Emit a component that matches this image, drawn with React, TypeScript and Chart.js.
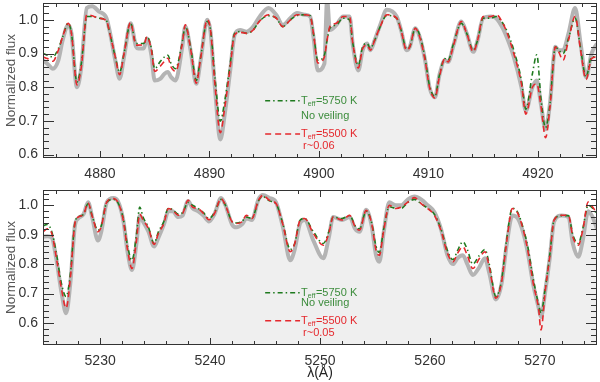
import React, { useEffect, useRef } from 'react';
import { Chart, registerables } from 'chart.js';
Chart.register(...registerables);

// ---------- top panel data (Å, normalized flux) ----------
const topWave = [4874.8, 4875.2, 4875.7, 4876.2, 4876.6, 4877.1, 4877.4, 4877.9, 4878.3, 4878.8, 4879.3, 4879.9, 4880.6, 4880.9, 4881.4, 4881.8, 4882.2, 4882.8, 4883.3, 4883.5, 4884.0, 4884.3, 4884.7, 4885.0, 4885.5, 4885.9, 4886.2, 4886.5, 4886.9, 4887.5, 4887.8, 4888.3, 4888.8, 4889.2, 4889.8, 4890.1, 4890.5, 4891.0, 4891.4, 4891.9, 4892.3, 4892.8, 4893.4, 4894.0, 4894.6, 4895.4, 4896.1, 4896.7, 4897.4, 4898.0, 4898.7, 4899.2, 4899.5, 4899.9, 4900.5, 4900.75, 4901.0, 4901.6, 4902.2, 4902.8, 4903.1, 4903.6, 4904.0, 4904.4, 4904.7, 4905.1, 4905.6, 4906.2, 4907.1, 4907.5, 4908.0, 4908.3, 4908.8, 4909.2, 4909.7, 4910.1, 4910.6, 4911.0, 4911.5, 4911.8, 4912.3, 4913.0, 4913.5, 4914.1, 4914.5, 4915.0, 4915.7, 4916.2, 4916.8, 4917.2, 4917.8, 4918.5, 4918.9, 4919.5, 4919.9, 4920.3, 4920.7, 4921.1, 4921.6, 4921.9, 4922.3, 4922.8, 4923.4, 4923.9, 4924.4, 4924.9, 4925.4];
const topObserved = [0.88, 0.87, 0.855, 0.88, 0.94, 0.985, 0.96, 0.80, 0.86, 1.035, 1.04, 1.025, 1.005, 0.965, 0.88, 0.825, 0.89, 0.99, 0.92, 0.915, 0.915, 0.945, 0.895, 0.82, 0.825, 0.84, 0.845, 0.83, 0.82, 0.915, 0.98, 0.905, 0.81, 0.88, 1.0, 0.965, 0.80, 0.645, 0.72, 0.85, 0.955, 0.97, 0.965, 0.98, 1.01, 1.035, 1.015, 0.985, 1.005, 1.02, 1.015, 1.01, 0.95, 0.85, 0.87, 1.06, 0.97, 0.985, 1.01, 1.01, 0.925, 0.85, 0.91, 0.93, 0.91, 0.94, 0.985, 1.03, 1.01, 0.97, 0.91, 0.92, 0.975, 0.95, 0.88, 0.80, 0.77, 0.835, 0.88, 0.875, 0.925, 0.995, 0.96, 0.905, 0.94, 1.005, 1.01, 1.005, 0.975, 0.945, 0.89, 0.80, 0.73, 0.80, 0.82, 0.745, 0.675, 0.75, 0.92, 0.91, 0.91, 0.96, 1.035, 0.93, 0.83, 0.90, 0.93];
const topNoVeiling = [0.90, 0.895, 0.89, 0.915, 0.95, 0.99, 0.96, 0.815, 0.87, 1.01, 1.01, 1.005, 0.997, 0.96, 0.89, 0.845, 0.90, 0.99, 0.93, 0.93, 0.93, 0.95, 0.915, 0.855, 0.876, 0.89, 0.895, 0.87, 0.855, 0.93, 0.98, 0.915, 0.82, 0.89, 0.995, 0.97, 0.83, 0.699, 0.76, 0.87, 0.96, 0.965, 0.96, 0.97, 0.997, 1.012, 1.005, 0.98, 1.0, 1.013, 1.015, 1.012, 0.96, 0.88, 0.895, 0.94, 0.975, 0.985, 1.005, 1.0, 0.93, 0.865, 0.92, 0.93, 0.915, 0.94, 0.98, 1.013, 1.005, 0.97, 0.915, 0.92, 0.975, 0.955, 0.885, 0.805, 0.772, 0.835, 0.885, 0.88, 0.93, 0.99, 0.96, 0.91, 0.94, 1.005, 1.005, 1.01, 0.99, 0.965, 0.91, 0.82, 0.735, 0.84, 0.896, 0.76, 0.68, 0.75, 0.92, 0.91, 0.90, 0.945, 1.005, 0.915, 0.83, 0.89, 0.89];
const topVeiled = [0.89, 0.885, 0.877, 0.91, 0.95, 0.99, 0.96, 0.807, 0.86, 1.015, 1.012, 1.005, 0.997, 0.96, 0.89, 0.837, 0.90, 0.992, 0.925, 0.925, 0.926, 0.95, 0.91, 0.847, 0.862, 0.877, 0.886, 0.86, 0.847, 0.925, 0.985, 0.91, 0.812, 0.886, 1.0, 0.97, 0.81, 0.665, 0.74, 0.86, 0.956, 0.963, 0.96, 0.97, 0.997, 1.015, 1.005, 0.98, 1.0, 1.015, 1.015, 1.012, 0.96, 0.872, 0.89, 0.94, 0.98, 0.99, 1.01, 1.01, 0.93, 0.857, 0.915, 0.925, 0.91, 0.94, 0.98, 1.015, 1.005, 0.97, 0.91, 0.92, 0.975, 0.95, 0.88, 0.80, 0.768, 0.83, 0.885, 0.875, 0.925, 0.995, 0.96, 0.905, 0.94, 1.01, 1.01, 1.015, 0.99, 0.96, 0.90, 0.81, 0.72, 0.80, 0.81, 0.74, 0.65, 0.74, 0.92, 0.905, 0.88, 0.94, 1.01, 0.91, 0.823, 0.885, 0.89];

// ---------- bottom panel data ----------
const bottomWave = [5224.8, 5225.2, 5225.6, 5226.0, 5226.5, 5226.9, 5227.3, 5227.7, 5228.0, 5228.5, 5228.9, 5229.3, 5229.8, 5230.1, 5230.6, 5231.2, 5231.6, 5232.1, 5232.5, 5232.9, 5233.3, 5233.6, 5233.9, 5234.4, 5234.9, 5235.3, 5235.8, 5236.2, 5236.6, 5237.1, 5237.5, 5238.0, 5238.4, 5238.9, 5239.4, 5239.9, 5240.4, 5241.0, 5241.4, 5242.0, 5242.4, 5242.9, 5243.3, 5243.8, 5244.4, 5244.8, 5245.4, 5246.0, 5246.6, 5247.3, 5247.7, 5248.2, 5248.6, 5249.4, 5250.3, 5250.8, 5251.2, 5252.0, 5252.7, 5253.2, 5253.6, 5254.2, 5254.7, 5255.1, 5255.4, 5255.8, 5256.3, 5256.9, 5257.4, 5258.0, 5258.6, 5259.2, 5259.8, 5260.4, 5261.0, 5261.6, 5262.1, 5262.5, 5263.0, 5263.4, 5263.9, 5264.5, 5265.0, 5265.4, 5266.0, 5266.5, 5267.0, 5267.5, 5268.0, 5268.5, 5268.9, 5269.4, 5269.9, 5270.1, 5270.5, 5270.9, 5271.3, 5272.0, 5272.6, 5273.0, 5273.5, 5273.9, 5274.4, 5274.8, 5275.2];
const bottomObserved = [0.893, 0.895, 0.89, 0.82, 0.70, 0.633, 0.74, 0.93, 0.955, 0.97, 1.01, 0.955, 0.88, 0.91, 1.01, 1.025, 1.015, 0.95, 0.84, 0.78, 0.87, 0.965, 0.945, 0.91, 0.86, 0.89, 0.935, 0.98, 0.98, 0.96, 0.965, 1.015, 0.99, 0.98, 0.965, 0.945, 0.97, 1.025, 1.0, 0.935, 0.925, 0.935, 0.955, 0.95, 1.02, 1.035, 1.025, 1.01, 0.93, 0.813, 0.85, 0.94, 0.95, 0.88, 0.82, 0.89, 0.96, 0.95, 0.96, 0.92, 0.91, 0.985, 0.93, 0.83, 0.808, 0.91, 1.01, 1.0, 1.0, 1.02, 1.03, 1.02, 1.0, 0.977, 0.92, 0.83, 0.80, 0.82, 0.83, 0.80, 0.763, 0.79, 0.82, 0.77, 0.68, 0.73, 0.87, 0.965, 0.955, 0.905, 0.84, 0.73, 0.65, 0.62, 0.71, 0.82, 0.945, 0.965, 0.96, 0.87, 0.825, 0.88, 0.98, 0.96, 0.92];
const bottomNoVeiling = [0.93, 0.935, 0.91, 0.84, 0.73, 0.69, 0.77, 0.94, 0.96, 0.97, 1.005, 0.96, 0.915, 0.93, 1.01, 1.02, 1.01, 0.955, 0.86, 0.813, 0.90, 0.994, 0.96, 0.925, 0.87, 0.91, 0.945, 0.99, 0.985, 0.97, 0.975, 1.01, 1.0, 0.99, 0.975, 0.955, 0.975, 1.02, 1.0, 0.945, 0.94, 0.945, 0.96, 0.955, 1.015, 1.03, 1.015, 1.005, 0.94, 0.85, 0.87, 0.95, 0.955, 0.91, 0.87, 0.91, 0.96, 0.955, 0.965, 0.93, 0.92, 0.98, 0.94, 0.86, 0.84, 0.92, 0.995, 0.99, 0.99, 1.01, 1.02, 1.005, 0.99, 0.97, 0.92, 0.845, 0.815, 0.845, 0.876, 0.85, 0.80, 0.83, 0.85, 0.80, 0.69, 0.74, 0.89, 0.99, 0.975, 0.92, 0.86, 0.75, 0.66, 0.633, 0.72, 0.83, 0.95, 0.965, 0.965, 0.90, 0.87, 0.92, 1.0, 0.99, 0.97];
const bottomVeiled = [0.91, 0.92, 0.904, 0.825, 0.712, 0.65, 0.757, 0.938, 0.96, 0.97, 1.008, 0.96, 0.91, 0.927, 1.011, 1.023, 1.011, 0.95, 0.847, 0.785, 0.88, 0.97, 0.95, 0.92, 0.867, 0.904, 0.938, 0.989, 0.983, 0.966, 0.972, 1.017, 0.994, 0.989, 0.972, 0.951, 0.972, 1.023, 1.0, 0.944, 0.938, 0.944, 0.966, 0.955, 1.017, 1.034, 1.017, 1.006, 0.938, 0.842, 0.87, 0.95, 0.955, 0.904, 0.864, 0.904, 0.96, 0.95, 0.966, 0.927, 0.915, 0.983, 0.938, 0.847, 0.83, 0.915, 1.0, 0.989, 0.994, 1.011, 1.026, 1.006, 0.989, 0.966, 0.915, 0.836, 0.808, 0.836, 0.859, 0.83, 0.785, 0.819, 0.842, 0.79, 0.684, 0.735, 0.88, 0.989, 0.972, 0.915, 0.847, 0.735, 0.644, 0.576, 0.712, 0.825, 0.95, 0.966, 0.966, 0.893, 0.864, 0.915, 1.011, 0.994, 0.972];

// ---------- axes ----------
const topRange = [4874.8, 4925.4];
const bottomRange = [5224.8, 5275.2];
const topFluxRange = [0.59, 1.05];
const bottomFluxRange = [0.525, 1.052];
const topXTicks = [4880, 4890, 4900, 4910, 4920];
const bottomXTicks = [5230, 5240, 5250, 5260, 5270];
const fluxTicks = [0.6, 0.7, 0.8, 0.9, 1.0];
const coolLabel = ['5750 K', 'No veiling'];
const topVeilLabel = ['5500 K', 'r~0.06'];
const bottomVeilLabel = ['5500 K', 'r~0.05'];

const FONT = '"Liberation Sans", Arial, sans-serif';
const GREEN_LINE = '#1f7a1f';
const GREEN_TEXT = '#3c8c3c';
const RED = '#e5282d';
const GREY = '#b4b4b4';
const FILL = '#efefef';
const AXIS = '#333333';

function pts(xs: number[], ys: number[]) {
  return xs.map((x, i) => ({ x, y: ys[i] }));
}

const framePlugin = {
  id: 'frameTicks',
  afterDatasetsDraw(chart: any) {
    const { ctx, chartArea: a, scales } = chart;
    const xs = scales.x, ys = scales.y;
    ctx.save();
    ctx.strokeStyle = AXIS;
    ctx.lineWidth = 1;
    ctx.strokeRect(a.left + 0.5, a.top + 0.5, a.right - a.left - 1, a.bottom - a.top - 1);
    ctx.beginPath();
    for (let i = Math.ceil(xs.min / 2); i * 2 <= xs.max; i++) {
      const v = i * 2;
      const px = Math.round(xs.getPixelForValue(v)) + 0.5;
      const len = v % 10 === 0 ? 7 : 4;
      ctx.moveTo(px, a.bottom); ctx.lineTo(px, a.bottom - len);
      ctx.moveTo(px, a.top); ctx.lineTo(px, a.top + len);
    }
    for (let i = Math.ceil(ys.min * 50 - 1e-6); i / 50 <= ys.max + 1e-9; i++) {
      const py = Math.round(ys.getPixelForValue(i / 50)) + 0.5;
      const len = i % 5 === 0 ? 11 : 6;
      ctx.moveTo(a.left, py); ctx.lineTo(a.left + len, py);
      ctx.moveTo(a.right, py); ctx.lineTo(a.right - len, py);
    }
    ctx.stroke();
    ctx.restore();
  },
};

const legendPlugin = {
  id: 'modelLegend',
  afterDraw(chart: any, _args: any, opts: any) {
    const { ctx, chartArea: a } = chart;
    const w = a.right - a.left, h = a.bottom - a.top;
    const x0 = a.left + w * 0.401, x1 = a.left + w * 0.464;
    const tx = x1 + 1;
    const rows = opts.rows as number[];
    const drawTeff = (y: number, val: string, color: string) => {
      ctx.fillStyle = color;
      ctx.textBaseline = 'middle';
      ctx.textAlign = 'left';
      ctx.font = `11px ${FONT}`;
      ctx.fillText('T', tx, y);
      const tw = ctx.measureText('T').width;
      ctx.font = `7px ${FONT}`;
      ctx.fillText('eff', tx + tw, y + 3);
      const sw = ctx.measureText('eff').width;
      ctx.font = `11px ${FONT}`;
      ctx.fillText('=' + val, tx + tw + sw + 0.5, y);
    };
    ctx.save();
    ctx.lineWidth = 1.5;
    let y = a.top + h * rows[0];
    ctx.strokeStyle = GREEN_LINE;
    ctx.setLineDash([5, 3, 1.5, 3]);
    ctx.beginPath(); ctx.moveTo(x0, y); ctx.lineTo(x1, y); ctx.stroke();
    drawTeff(y, opts.cool[0], GREEN_TEXT);
    ctx.font = `11px ${FONT}`;
    ctx.fillText(opts.cool[1], tx, a.top + h * rows[1]);
    y = a.top + h * rows[2];
    ctx.strokeStyle = RED;
    ctx.setLineDash([6, 4]);
    ctx.beginPath(); ctx.moveTo(x0, y); ctx.lineTo(x1, y); ctx.stroke();
    drawTeff(y, opts.veil[0], RED);
    ctx.font = `11px ${FONT}`;
    ctx.fillText(opts.veil[1], tx + 2, a.top + h * rows[3]);
    ctx.restore();
  },
};

function makeConfig(p: {
  wave: number[]; obs: number[]; cool: number[]; veil: number[];
  range: number[]; flux: number[]; xTicks: number[];
  padTop: number; xHeight: number; showTitle: boolean; rows: number[]; veilLabel: string[];
}): any {
  const zeroPad = (s: any) => { s.paddingTop = 0; s.paddingBottom = 0; s.paddingLeft = 0; s.paddingRight = 0; };
  return {
    type: 'line',
    data: {
      datasets: [
        {
          label: 'Observed',
          data: pts(p.wave, p.obs),
          borderColor: GREY,
          borderWidth: 4,
          backgroundColor: FILL,
          fill: 'start',
          pointRadius: 0,
          cubicInterpolationMode: 'monotone',
          order: 3,
        },
        {
          label: 'Teff=5750 K, no veiling',
          data: pts(p.wave, p.cool),
          borderColor: GREEN_LINE,
          borderWidth: 1.6,
          borderDash: [5, 3, 1.5, 3],
          fill: false,
          pointRadius: 0,
          cubicInterpolationMode: 'monotone',
          order: 2,
        },
        {
          label: 'Teff=5500 K, veiled',
          data: pts(p.wave, p.veil),
          borderColor: RED,
          borderWidth: 1.6,
          borderDash: [6, 4],
          fill: false,
          pointRadius: 0,
          cubicInterpolationMode: 'monotone',
          order: 1,
        },
      ],
    },
    options: {
      animation: false,
      responsive: false,
      layout: { padding: { top: p.padTop, right: 3, left: 0, bottom: 0 } },
      plugins: {
        legend: { display: false },
        tooltip: { enabled: false },
        modelLegend: { rows: p.rows, cool: coolLabel, veil: p.veilLabel },
      },
      scales: {
        x: {
          type: 'linear',
          min: p.range[0],
          max: p.range[1],
          grid: { display: false, drawTicks: false },
          border: { display: false },
          afterBuildTicks: (s: any) => { s.ticks = p.xTicks.map((v) => ({ value: v })); },
          afterFit: (s: any) => { s.height = p.xHeight; zeroPad(s); },
          ticks: {
            padding: 8,
            maxRotation: 0,
            color: AXIS,
            font: { family: FONT, size: 14 },
            callback: (v: any) => String(v),
          },
          title: {
            display: p.showTitle,
            text: 'λ(Å)',
            color: '#222',
            font: { family: FONT, size: 14 },
            padding: { top: 0, bottom: 0 },
          },
        },
        y: {
          min: p.flux[0],
          max: p.flux[1],
          grid: { display: false, drawTicks: false },
          border: { display: false },
          afterBuildTicks: (s: any) => { s.ticks = fluxTicks.map((v) => ({ value: v })); },
          afterFit: (s: any) => { s.width = 43; zeroPad(s); },
          ticks: {
            padding: 5,
            color: AXIS,
            font: { family: FONT, size: 14 },
            callback: (v: any) => Number(v).toFixed(1),
          },
          title: {
            display: true,
            text: 'Normalized flux',
            color: '#555',
            font: { family: FONT, size: 13.5 },
            padding: { top: 3, bottom: 0 },
          },
        },
      },
    },
    plugins: [framePlugin, legendPlugin],
  };
}

function Panel(props: { cfg: any; top: number; height: number }) {
  const ref = useRef<HTMLCanvasElement | null>(null);
  useEffect(() => {
    if (!ref.current) return;
    const chart = new Chart(ref.current, props.cfg);
    return () => chart.destroy();
  }, []);
  return (
    <canvas
      ref={ref}
      width={600}
      height={props.height}
      style={{ position: 'absolute', left: 0, top: props.top, width: 600, height: props.height, display: 'block' }}
    />
  );
}

export default function App() {
  const topCfg = makeConfig({
    wave: topWave, obs: topObserved, cool: topNoVeiling, veil: topVeiled,
    range: topRange, flux: topFluxRange, xTicks: topXTicks,
    padTop: 3, xHeight: 24, showTitle: false,
    rows: [0.63, 0.727, 0.845, 0.923], veilLabel: topVeilLabel,
  });
  const bottomCfg = makeConfig({
    wave: bottomWave, obs: bottomObserved, cool: bottomNoVeiling, veil: bottomVeiled,
    range: bottomRange, flux: bottomFluxRange, xTicks: bottomXTicks,
    padTop: 8, xHeight: 37, showTitle: true,
    rows: [0.663, 0.729, 0.843, 0.923], veilLabel: bottomVeilLabel,
  });
  return (
    <div style={{ position: 'absolute', left: 0, top: 0, width: 600, height: 382, background: '#fff' }}>
      <Panel cfg={topCfg} top={0} height={182} />
      <Panel cfg={bottomCfg} top={182} height={200} />
    </div>
  );
}
